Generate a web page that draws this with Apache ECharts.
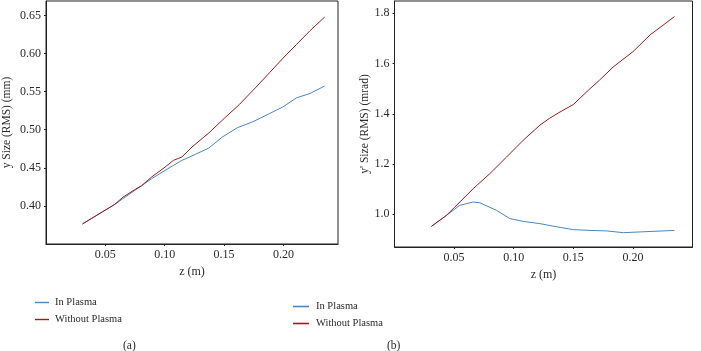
<!DOCTYPE html>
<html>
<head>
<meta charset="utf-8">
<script src="https://cdn.jsdelivr.net/npm/echarts@6/dist/echarts.min.js"></script>
<style>
  html, body { margin: 0; padding: 0; background: #fff; }
  #chart { width: 701px; height: 351px; }
</style>
</head>
<body>
<div id="chart"></div>
<script>
// (a) y size vs z
const zPlasmaA = [0.0307, 0.0577, 0.0747, 0.0889, 0.1003, 0.1145, 0.1259, 0.1372, 0.1486, 0.1614, 0.1741, 0.1884, 0.1997, 0.2111, 0.2224, 0.2347]
const ySizePlasma = [0.3763, 0.4018, 0.4202, 0.4356, 0.4466, 0.4598, 0.4677, 0.4760, 0.4905, 0.5028, 0.5103, 0.5213, 0.5300, 0.5419, 0.5476, 0.5573]
const zNoPlasmaA = [0.0307, 0.0577, 0.0648, 0.0733, 0.0804, 0.0889, 0.1003, 0.1074, 0.1145, 0.1230, 0.1372, 0.1500, 0.1628, 0.1770, 0.1884, 0.1997, 0.2111, 0.2224, 0.2347]
const ySizeNoPlasma = [0.3763, 0.4018, 0.4114, 0.4200, 0.4264, 0.4378, 0.4510, 0.4598, 0.4642, 0.4773, 0.4958, 0.5147, 0.5330, 0.5560, 0.5750, 0.5940, 0.6120, 0.6300, 0.6478]

// (b) y' size vs z
const zPlasmaB = [0.031, 0.0436, 0.0548, 0.066, 0.0716, 0.0856, 0.0968, 0.108, 0.122, 0.133, 0.150, 0.164, 0.178, 0.192, 0.206, 0.2349]
const ypSizePlasma = [0.952, 0.996, 1.036, 1.049, 1.046, 1.016, 0.983, 0.972, 0.963, 0.953, 0.939, 0.936, 0.934, 0.927, 0.930, 0.936]
const zNoPlasmaB = [0.031, 0.0436, 0.0506, 0.066, 0.080, 0.094, 0.108, 0.122, 0.130, 0.138, 0.150, 0.164, 0.172, 0.1836, 0.200, 0.2144, 0.2349]
const ypSizeNoPlasma = [0.952, 0.996, 1.029, 1.102, 1.162, 1.228, 1.295, 1.355, 1.382, 1.405, 1.437, 1.500, 1.534, 1.587, 1.647, 1.714, 1.787]

const seriesNames = ['In Plasma', 'Without Plasma']
const captions = ['(a)', '(b)']

const BLUE = '#4a86c5'
const RED = '#a01c1c'
const FONT = 'Liberation Serif'
const TXT = '#2a2a2a'

const zip = (xs, ys) => xs.map((x, i) => [x, ys[i]])

const chart = echarts.init(document.getElementById('chart'))

const xAxisBase = (gridIndex, max) => ({
  type: 'value',
  gridIndex,
  min: 0,
  max,
  splitNumber: 5,
  name: 'z (m)',
  nameLocation: 'middle',
  nameGap: 22,
  nameTextStyle: { fontFamily: FONT, fontSize: 12, color: TXT },
  axisLine: { show: true, lineStyle: { color: '#222', width: 1 } },
  axisTick: { show: true, length: 2, lineStyle: { color: '#222' } },
  axisLabel: {
    fontFamily: FONT, fontSize: 12, color: TXT, margin: 5,
    showMinLabel: false, showMaxLabel: false,
    formatter: (v) => v.toFixed(2),
  },
  splitLine: { show: false },
})

const yAxisBase = (gridIndex, min, max, name, gap, digits) => ({
  type: 'value',
  gridIndex,
  min,
  max,
  splitNumber: 6,
  name,
  nameLocation: 'middle',
  nameGap: gap,
  nameTextStyle: { fontFamily: FONT, fontSize: 11.5, color: TXT },
  axisLine: { show: true, lineStyle: { color: '#222', width: 1 } },
  axisTick: { show: true, length: 2, lineStyle: { color: '#222' } },
  axisLabel: {
    fontFamily: FONT, fontSize: 12, color: TXT, margin: 5,
    showMinLabel: false, showMaxLabel: false,
    formatter: (v) => v.toFixed(digits),
  },
  splitLine: { show: false },
})

const lineSeries = (name, data, color, idx) => ({
  name,
  type: 'line',
  xAxisIndex: idx,
  yAxisIndex: idx,
  data,
  showSymbol: false,
  symbol: 'none',
  lineStyle: { color, width: 1 },
  itemStyle: { color },
  animation: false,
})

// legend icon: a short horizontal stroke
const legendIcon = 'path://M0,0H16V1.6H0Z'

const option = {
  backgroundColor: '#fff',
  title: [
    { text: captions[0], left: 118, top: 335, textStyle: { fontFamily: FONT, fontSize: 11.5, fontWeight: 'normal', color: TXT } },
    { text: captions[1], left: 382, top: 335, textStyle: { fontFamily: FONT, fontSize: 11.5, fontWeight: 'normal', color: TXT } },
  ],
  legend: [
    {
      data: seriesNames, orient: 'vertical', left: 35, top: 297, padding: 0,
      itemWidth: 14, itemHeight: 10, itemGap: 6, icon: legendIcon,
      textStyle: { fontFamily: FONT, fontSize: 10.5, color: TXT, padding: [0, 0, 0, 1] },
    },
    {
      data: seriesNames.map((n) => n + ' '), orient: 'vertical', left: 293, top: 301, padding: 0,
      itemWidth: 16, itemHeight: 10, itemGap: 6, icon: legendIcon,
      textStyle: { fontFamily: FONT, fontSize: 10.5, color: TXT, padding: [0, 0, 0, 2] },
      formatter: (n) => n.trim(),
    },
  ],
  grid: [
    { left: 46, top: 1, width: 292, height: 243, show: true, borderColor: '#222', borderWidth: 1, containLabel: false },
    { left: 394.5, top: 1, width: 298, height: 246, show: true, borderColor: '#222', borderWidth: 1, containLabel: false },
  ],
  xAxis: [xAxisBase(0, 0.246), xAxisBase(1, 0.25)],
  yAxis: [
    yAxisBase(0, 0.35, 0.669, 'y Size (RMS) (mm)', 33, 2),
    yAxisBase(1, 0.87, 1.849, "y' Size (RMS) (mrad)", 22, 1),
  ],
  series: [
    lineSeries(seriesNames[0], zip(zPlasmaA, ySizePlasma), BLUE, 0),
    lineSeries(seriesNames[1], zip(zNoPlasmaA, ySizeNoPlasma), RED, 0),
    lineSeries(seriesNames[0] + ' ', zip(zPlasmaB, ypSizePlasma), BLUE, 1),
    lineSeries(seriesNames[1] + ' ', zip(zNoPlasmaB, ypSizeNoPlasma), RED, 1),
  ],
}

chart.setOption(option)
</script>
</body>
</html>
